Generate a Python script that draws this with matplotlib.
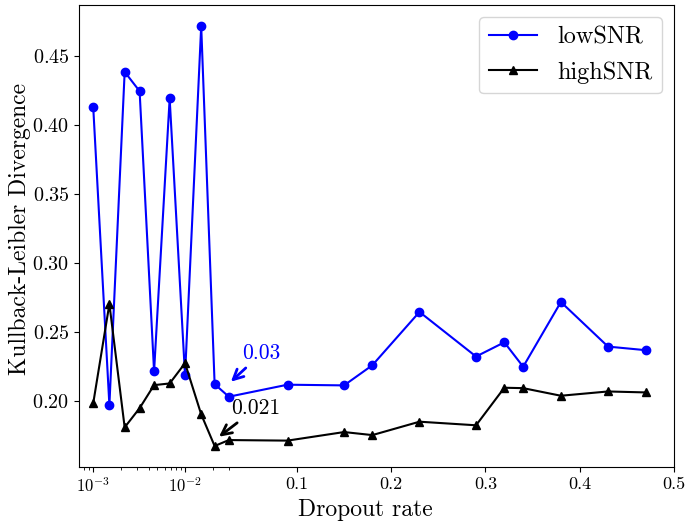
import numpy as np
import matplotlib
matplotlib.use('Agg')
import matplotlib.pyplot as plt

plt.rcParams['font.family'] = 'serif'
plt.rcParams['font.serif'] = ['cmr10']
plt.rcParams['mathtext.fontset'] = 'cm'
plt.rcParams['axes.formatter.use_mathtext'] = True
plt.rcParams['axes.unicode_minus'] = False

# dropout rates: log spaced up to 0.03, then linear
rates = [0.001, 0.0015, 0.0022, 0.0032, 0.0046, 0.0068, 0.01, 0.015, 0.021, 0.03,
         0.09, 0.15, 0.18, 0.23, 0.29, 0.32, 0.34, 0.38, 0.43, 0.47]
kl_low = [0.4132, 0.1973, 0.4387, 0.4247, 0.2217, 0.4194, 0.2188, 0.4719, 0.2125, 0.2034,
          0.2121, 0.2116, 0.2262, 0.2648, 0.2325, 0.2428, 0.2251, 0.2720, 0.2397, 0.2371]
kl_high = [0.1986, 0.2706, 0.1812, 0.1951, 0.2118, 0.2130, 0.2277, 0.1906, 0.1677, 0.1720,
           0.1716, 0.1778, 0.1756, 0.1853, 0.1827, 0.2099, 0.2096, 0.2041, 0.2072, 0.2065]

# rates picked out with an arrow on each curve
mark_low = 0.03
mark_high = 0.021

major_ticks = [1e-3, 1e-2, 0.1, 0.2, 0.3, 0.4, 0.5]
major_labels = [r'$10^{-3}$', r'$10^{-2}$', '0.1', '0.2', '0.3', '0.4', '0.5']
minor_ticks = [8e-4, 9e-4, 2e-3, 3e-3, 4e-3, 5e-3, 6e-3, 7e-3, 8e-3, 9e-3, 2e-2, 3e-2]

# log axis below X0, linear above, joined with matching slope
X0 = 0.0423
LX0 = np.log10(X0)
SLOPE = 1.0 / (X0 * np.log(10))


def fwd(x):
    x = np.asarray(x, dtype=float)
    lg = np.log10(np.maximum(x, 1e-12))
    return np.where(x <= X0, lg, LX0 + (x - X0) * SLOPE)


def inv(u):
    u = np.asarray(u, dtype=float)
    return np.where(u <= LX0, 10.0 ** np.minimum(u, LX0), X0 + (u - LX0) / SLOPE)


fig = plt.figure(figsize=(6.88, 5.22), dpi=100)
ax = fig.add_axes([79 / 688, 55 / 522, 595 / 688, 462 / 522])

ax.plot(rates, kl_low, color='b', marker='o', label='lowSNR')
ax.plot(rates, kl_high, color='k', marker='^', label='highSNR')

ax.set_xscale('function', functions=(fwd, inv))
ax.set_xlim(7e-4, 0.5)

ax.set_xticks(major_ticks)
ax.set_xticklabels(major_labels)
ax.set_xticks(minor_ticks, minor=True)
ax.set_xticklabels([], minor=True)
ax.tick_params(axis='x', which='minor', length=2)
for lab in ax.get_xticklabels():
    lab.set_fontsize(12 if lab.get_text().startswith('$') else 13)
ax.tick_params(axis='y', labelsize=14.5)

i_low = rates.index(mark_low)
i_high = rates.index(mark_high)
ax.annotate(f'{mark_low:g}', xy=(mark_low, kl_low[i_low] + 0.0095),
            xytext=(0.042, 0.2305), color='b', fontsize=15.5,
            arrowprops=dict(arrowstyle='->', color='b', lw=2, mutation_scale=18))
ax.annotate(f'{mark_high:g}', xy=(mark_high + 0.0012, kl_high[i_high] + 0.0055),
            xytext=(0.0318, 0.1906), color='k', fontsize=15.5,
            arrowprops=dict(arrowstyle='->', color='k', lw=2, mutation_scale=18))

ax.set_xlabel('Dropout rate', fontsize=17)
ax.set_ylabel('Kullback-Leibler Divergence', fontsize=17)
ax.xaxis.set_label_coords(0.482, -0.07)
ax.yaxis.set_label_coords(-0.08, 0.515)
ax.legend(loc='upper right', fontsize=17.5)

fig.savefig('out.png', dpi=100)
